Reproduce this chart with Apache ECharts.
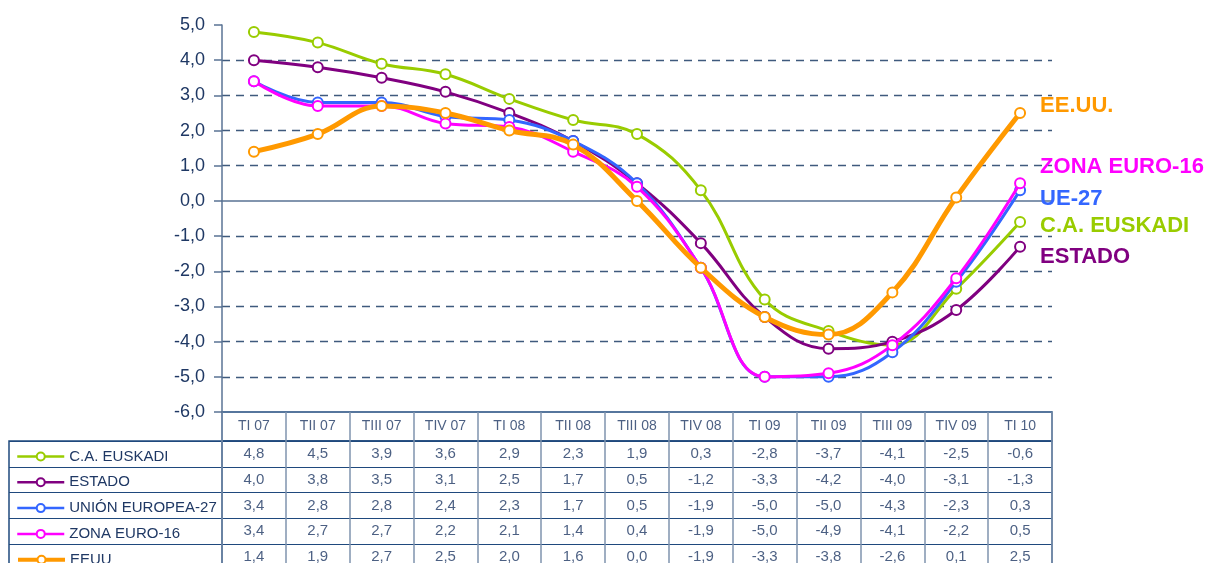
<!DOCTYPE html>
<html>
<head>
<meta charset="utf-8">
<script src="https://cdn.jsdelivr.net/npm/echarts@6/dist/echarts.min.js"></script>
<style>
  html, body { margin: 0; padding: 0; background: #fff; overflow: hidden; }
  #chart { width: 1215px; height: 575px; }
</style>
</head>
<body>
<div id="chart"></div>
<script>
// quarters
const quarters = ['TI 07', 'TII 07', 'TIII 07', 'TIV 07', 'TI 08', 'TII 08', 'TIII 08',
  'TIV 08', 'TI 09', 'TII 09', 'TIII 09', 'TIV 09', 'TI 10']

const seriesNames = ['C.A. EUSKADI', 'ESTADO', 'UNIÓN EUROPEA-27', 'ZONA EURO-16', 'EEUU']
const endNames = ['C.A. EUSKADI', 'ESTADO', 'UE-27', 'ZONA EURO-16', 'EE.UU.']

const euskadi = [4.8, 4.5, 3.9, 3.6, 2.9, 2.3, 1.9, 0.3, -2.8, -3.7, -4.1, -2.5, -0.6]
const estado = [4.0, 3.8, 3.5, 3.1, 2.5, 1.7, 0.5, -1.2, -3.3, -4.2, -4.0, -3.1, -1.3]
const ue27 = [3.4, 2.8, 2.8, 2.4, 2.3, 1.7, 0.5, -1.9, -5.0, -5.0, -4.3, -2.3, 0.3]
const zonaEuro = [3.4, 2.7, 2.7, 2.2, 2.1, 1.4, 0.4, -1.9, -5.0, -4.9, -4.1, -2.2, 0.5]
const eeuu = [1.4, 1.9, 2.7, 2.5, 2.0, 1.6, 0.0, -1.9, -3.3, -3.8, -2.6, 0.1, 2.5]

const allValues = [euskadi, estado, ue27, zonaEuro, eeuu]

const colors = ['#99CC00', '#800080', '#3366FF', '#FF00FF', '#FF9900']
const widths = [3, 3, 3, 3, 5]
const keyWidths = [2.5, 2.5, 2.5, 2.5, 4]
const endOffsets = [[0, 4], [0, 10], [0, 9], [0, -16], [0, -7]]

const navy = '#1F3864'
const fmt = v => v.toFixed(1).replace('.', ',')

// table geometry
const rowTop = 441
const rowH = 25.8

// cell texts for the table grid
const headerCells = quarters.map((q, i) => [i, 0, q])
const cells = []
allValues.forEach((arr, r) => {
  arr.forEach((v, i) => cells.push([i, r, fmt(v)]))
})

const gridSplit = []
for (let v = -6; v <= 5; v++) {
  gridSplit.push(v === -6 || v === 0 || v === 5 ? 'rgba(0,0,0,0)' : '#3F5A7D')
}

const lineSeries = allValues.map((arr, k) => ({
  name: seriesNames[k],
  type: 'line',
  data: arr,
  smooth: 0.4,
  symbol: 'emptyCircle',
  symbolSize: 10,
  color: colors[k],
  lineStyle: { width: widths[k], color: colors[k] },
  itemStyle: { color: colors[k], borderWidth: 1.5 },
  z: 3 + k,
  endLabel: {
    show: true,
    formatter: endNames[k],
    color: colors[k],
    fontFamily: 'Liberation Sans, Arial, sans-serif',
    fontWeight: 'bold',
    fontSize: 22,
    distance: 20,
    offset: endOffsets[k]
  },
  xAxisIndex: 0,
  yAxisIndex: 0
}))

const legends = seriesNames.map((n, k) => ({
  orient: 'horizontal',
  left: 11,
  top: rowTop + k * rowH + 3,
  itemWidth: 47,
  itemHeight: 10,
  data: [n],
  lineStyle: { width: keyWidths[k] },
  textStyle: { color: navy, fontSize: 15 }
}))

const hiddenCat = {
  axisLine: { show: false },
  axisTick: { show: false },
  axisLabel: { show: false }
}

const chart = echarts.init(document.getElementById('chart'))

const option = {
  animation: false,
  textStyle: { fontFamily: 'Liberation Sans, Arial, sans-serif' },
  legend: legends,
  grid: [
    { left: 222, width: 830, top: 25, height: 387 },
    { left: 222, width: 830, top: 412, height: rowTop - 412, show: true, borderColor: '#1F497D', borderWidth: 1.5 },
    { left: 222, width: 830, top: rowTop, height: rowH * 5, show: true, borderColor: '#1F497D', borderWidth: 1.5 },
    { left: 9, width: 213, top: rowTop, height: rowH * 5, show: true, borderColor: '#1F497D', borderWidth: 1.5 }
  ],
  xAxis: [
    {
      type: 'category',
      gridIndex: 0,
      data: quarters,
      boundaryGap: true,
      axisLine: { show: true, onZero: true, lineStyle: { color: '#5A7394', width: 1.5 } },
      axisTick: { show: false },
      axisLabel: { show: false },
      splitLine: { show: false }
    },
    {
      type: 'category',
      gridIndex: 1,
      data: quarters,
      boundaryGap: true,
      ...hiddenCat,
      splitLine: { show: true, lineStyle: { color: '#7F93AE', width: 1.5 } }
    },
    {
      type: 'category',
      gridIndex: 2,
      data: quarters,
      boundaryGap: true,
      ...hiddenCat,
      splitLine: { show: true, lineStyle: { color: '#7F93AE', width: 1.5 } }
    },
    {
      type: 'category',
      gridIndex: 3,
      data: [''],
      show: false
    }
  ],
  yAxis: [
    {
      type: 'value',
      gridIndex: 0,
      min: -6,
      max: 5,
      interval: 1,
      axisLine: { show: true, lineStyle: { color: '#5A7394', width: 1.5 } },
      axisTick: { show: true, length: 8, lineStyle: { color: '#5A7394', width: 1.5 } },
      axisLabel: { formatter: fmt, color: navy, fontSize: 18, margin: 17 },
      splitLine: { show: true, lineStyle: { color: gridSplit, type: [8, 6], width: 1.3 } }
    },
    {
      type: 'category',
      gridIndex: 1,
      data: [''],
      ...hiddenCat,
      splitLine: { show: false }
    },
    {
      type: 'category',
      gridIndex: 2,
      data: seriesNames,
      inverse: true,
      ...hiddenCat,
      splitLine: { show: true, lineStyle: { color: '#1F497D', width: 1.2 } }
    },
    {
      type: 'category',
      gridIndex: 3,
      data: seriesNames,
      inverse: true,
      ...hiddenCat,
      splitLine: { show: true, lineStyle: { color: '#1F497D', width: 1.2 } }
    }
  ],
  series: [
    ...lineSeries,
    {
      type: 'scatter',
      xAxisIndex: 1,
      yAxisIndex: 1,
      data: headerCells,
      symbolSize: 1,
      itemStyle: { color: 'rgba(0,0,0,0)' },
      silent: true,
      label: {
        show: true,
        position: 'inside',
        formatter: p => p.data[2],
        color: navy,
        fontSize: 14
      }
    },
    {
      type: 'scatter',
      xAxisIndex: 2,
      yAxisIndex: 2,
      data: cells,
      symbolSize: 1,
      itemStyle: { color: 'rgba(0,0,0,0)' },
      silent: true,
      label: {
        show: true,
        position: 'inside',
        formatter: p => p.data[2],
        color: navy,
        fontSize: 15
      }
    }
  ]
}

chart.setOption(option)
</script>
</body>
</html>
